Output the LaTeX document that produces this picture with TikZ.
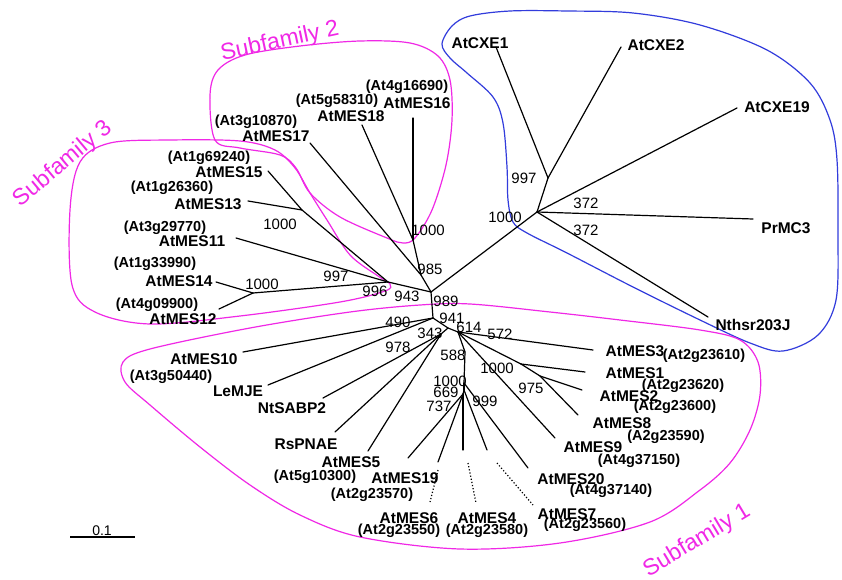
\documentclass[tikz,border=0pt]{standalone}
\usepackage{fontspec}
\setmainfont{Liberation Sans}
\definecolor{sfmag}{RGB}{240,40,230}
\definecolor{cxeblue}{RGB}{50,60,220}
\tikzset{
  br/.style={line width=1.2pt, black, line cap=round},
  brdot/.style={line width=1.2pt, black, dotted},
  tiplab/.style={font=\bfseries\fontsize{15.5}{16}\selectfont, inner sep=0pt},
  gid/.style={font=\bfseries\fontsize{14.5}{15}\selectfont, inner sep=0pt},
  bs/.style={font=\fontsize{15}{16}\selectfont, inner sep=0pt},
  subf/.style={font=\fontsize{23}{24}\selectfont, text=sfmag, inner sep=0pt},
  outl/.style={draw=sfmag, line width=1.2pt},
  outb/.style={draw=cxeblue, line width=1.2pt}
}
\begin{document}
\begin{tikzpicture}[x=1pt,y=-1pt]
\useasboundingbox[fill=white] (0,0) rectangle (842,580);

% ---------- outlines ----------
\draw[outb] plot[smooth cycle, tension=0.55] coordinates {
 (442,44) (452,26) (470,16) (510,11) (567,11) (633,13) (700,25) (767,50) (810,83)
 (830,120) (837,160) (838,233) (836,300) (818,335) (783,351) (750,343) (700,320)
 (633,287) (567,253) (527,233) (513,222) (508,200) (507,167) (503,123) (493,97)
 (467,73) (450,58)};
\draw[outl] plot[smooth cycle, tension=0.55] coordinates {
 (210,95) (218,70) (245,55) (300,46) (360,41) (410,43) (438,56) (450,80) (452,120)
 (446,165) (432,210) (415,238) (403,243) (387,238) (340,217) (310,193) (296,168)
 (280,155) (240,148) (215,140)};
\draw[outl] plot[smooth cycle, tension=0.55] coordinates {
 (110,143) (170,140) (240,141) (275,150) (295,168) (310,193) (327,220) (350,255)
 (378,276) (390,284) (385,291) (340,302) (240,316) (150,324) (95,312) (72,285)
 (70,210) (80,162)};
\draw[outl] plot[smooth cycle, tension=0.55] coordinates {
 (150,349) (250,328) (350,312) (420,305) (470,304) (550,312) (620,320) (700,330)
 (740,340) (758,362) (760,395) (750,430) (730,463) (700,490) (650,522) (560,543)
 (460,549) (360,537) (300,515) (250,485) (200,447) (150,405) (125,382) (123,362)};

\node[subf, rotate=12] (sf2) at (280,42) {Subfamily 2};
\node[subf, rotate=40] (sf3) at (63,164) {Subfamily 3};
\node[subf, rotate=31] (sf1) at (697,541) {Subfamily 1};

% ---------- tree nodes ----------
\coordinate (A) at (413,240);
\coordinate (B) at (421,275);
\coordinate (C) at (431,292);
\coordinate (D) at (388,282);
\coordinate (F) at (302,210);
\coordinate (G) at (253,293);
\coordinate (X) at (537,212);
\coordinate (Y) at (548,178);
\coordinate (H) at (433,318);
\coordinate (I) at (448,328);
\coordinate (J) at (441,334);
\coordinate (P) at (458,332);
\coordinate (R) at (521,364);
\coordinate (S) at (540,376);
\coordinate (L) at (465,352);
\coordinate (U) at (464,383);
\coordinate (V) at (464,390);
\coordinate (W) at (463,394);

% tips
\coordinate (t16) at (413,118);
\coordinate (t18) at (362,125);
\coordinate (t17) at (310,143);
\coordinate (t15) at (268,171);
\coordinate (t13) at (248,201);
\coordinate (t11) at (236,238);
\coordinate (t14) at (216,282);
\coordinate (t12) at (219,309);
\coordinate (tc1) at (496,47);
\coordinate (tc2) at (621,47);
\coordinate (tc19) at (737,108);
\coordinate (tpr) at (753,219);
\coordinate (tnt) at (708,317);
\coordinate (t10) at (243,352);
\coordinate (tle) at (268,385);
\coordinate (tnts) at (323,398);
\coordinate (trs) at (335,432);
\coordinate (t5) at (368,451);
\coordinate (t3) at (593,350);
\coordinate (t1) at (585,372);
\coordinate (t2) at (582,390);
\coordinate (t8) at (578,415);
\coordinate (t9) at (555,438);
\coordinate (t20) at (528,468);
\coordinate (t7s) at (487,450);
\coordinate (t6s) at (438,462);
\coordinate (t19) at (408,458);
\coordinate (t4s) at (463,450);
\coordinate (d6a) at (438,470);
\coordinate (d6b) at (430,502);
\coordinate (d4a) at (468,463);
\coordinate (d4b) at (476,503);
\coordinate (d7a) at (497,463);
\coordinate (d7b) at (533,505);

% ---------- branches ----------
\draw[br] (t16) -- (A);
\draw[br] (t18) -- (A);
\draw[br] (A) -- (B);
\draw[br] (t17) -- (B);
\draw[br] (B) -- (C);
\draw[br] (t15) -- (F);
\draw[br] (t13) -- (F);
\draw[br] (F) -- (D);
\draw[br] (t11) -- (D);
\draw[br] (t14) -- (G);
\draw[br] (t12) -- (G);
\draw[br] (G) -- (D);
\draw[br] (D) -- (C);
\draw[br] (C) -- (X);
\draw[br] (X) -- (Y);
\draw[br] (Y) -- (tc1);
\draw[br] (Y) -- (tc2);
\draw[br] (X) -- (tc19);
\draw[br] (X) -- (tpr);
\draw[br] (X) -- (tnt);
\draw[br] (C) -- (H);
\draw[br] (H) -- (t10);
\draw[br] (H) -- (tle);
\draw[br] (H) -- (I);
\draw[br] (I) -- (J);
\draw[br] (J) -- (tnts);
\draw[br] (J) -- (trs);
\draw[br] (J) -- (t5);
\draw[br] (I) -- (P);
\draw[br] (P) -- (t3);
\draw[br] (P) -- (R);
\draw[br] (R) -- (t1);
\draw[br] (R) -- (S);
\draw[br] (S) -- (t2);
\draw[br] (S) -- (t8);
\draw[br] (P) -- (t9);
\draw[br] (P) -- (L);
\draw[br] (L) -- (U);
\draw[br] (U) -- (t20);
\draw[br] (U) -- (V);
\draw[br] (V) -- (t7s);
\draw[br] (V) -- (W);
\draw[br] (W) -- (t6s);
\draw[br] (W) -- (t19);
\draw[br] (W) -- (t4s);
\draw[brdot] (d6a) -- (d6b);
\draw[brdot] (d4a) -- (d4b);
\draw[brdot] (d7a) -- (d7b);

% ---------- tip labels ----------
\node[gid] (g16) at (407,87) {(At4g16690)};
\node[tiplab] (n16) at (417,103) {AtMES16};
\node[gid] (g18) at (337,101) {(At5g58310)};
\node[tiplab] (n18) at (351,116) {AtMES18};
\node[gid] (g17) at (256,122) {(At3g10870)};
\node[tiplab] (n17) at (276,136) {AtMES17};

\node[gid] (g15) at (209,158) {(At1g69240)};
\node[tiplab] (n15) at (229,172) {AtMES15};
\node[gid] (g13) at (172,188) {(At1g26360)};
\node[tiplab] (n13) at (208,204) {AtMES13};
\node[gid] (g11) at (165,228) {(At3g29770)};
\node[tiplab] (n11) at (192,241) {AtMES11};
\node[gid] (g14) at (155,264) {(At1g33990)};
\node[tiplab] (n14) at (179,281) {AtMES14};
\node[gid] (g12) at (157,305) {(At4g09900)};
\node[tiplab] (n12) at (183,319) {AtMES12};

\node[tiplab] (nc1) at (480,43) {AtCXE1};
\node[tiplab] (nc2) at (656,45) {AtCXE2};
\node[tiplab] (nc19) at (777,107) {AtCXE19};
\node[tiplab] (npr) at (786,228) {PrMC3};
\node[tiplab] (nnt) at (753,325) {Nthsr203J};

\node[tiplab] (n10) at (204,359) {AtMES10};
\node[gid] (g10) at (171,377) {(At3g50440)};
\node[tiplab] (nle) at (238,391) {LeMJE};
\node[tiplab] (nnts) at (292,408) {NtSABP2};
\node[tiplab] (nrs) at (306,444) {RsPNAE};
\node[tiplab] (n5) at (351,462) {AtMES5};
\node[gid] (g5) at (315,477) {(At5g10300)};
\node[tiplab] (n19) at (405,478) {AtMES19};
\node[gid] (g19) at (372,495) {(At2g23570)};
\node[tiplab] (n6) at (409,518) {AtMES6};
\node[gid] (g6) at (399,531) {(At2g23550)};
\node[tiplab] (n4) at (487,518) {AtMES4};
\node[gid] (g4) at (487,531) {(At2g23580)};
\node[tiplab] (n7) at (567,514) {AtMES7};
\node[gid] (g7) at (585,525) {(At2g23560)};
\node[tiplab] (n20) at (571,479) {AtMES20};
\node[gid] (g20) at (611,491) {(At4g37140)};
\node[tiplab] (n9) at (593,447) {AtMES9};
\node[gid] (g9) at (639,461) {(At4g37150)};
\node[tiplab] (n8) at (622,423) {AtMES8};
\node[gid] (g8) at (666,437) {(A2g23590)};
\node[tiplab] (n2) at (629,396) {AtMES2};
\node[gid] (g2) at (675,407) {(At2g23600)};
\node[tiplab] (n1) at (635,373) {AtMES1};
\node[gid] (g1) at (683,386) {(At2g23620)};
\node[tiplab] (n3) at (635,351) {AtMES3};
\node[gid] (g3) at (704,356) {(At2g23610)};

% ---------- bootstrap values ----------
\node[bs] (b1) at (428,230) {1000};
\node[bs] (b2) at (430,269) {985};
\node[bs] (b3) at (280,224) {1000};
\node[bs] (b4) at (336,276) {997};
\node[bs] (b5) at (262,284) {1000};
\node[bs] (b6) at (375,291) {996};
\node[bs] (b7) at (407,296) {943};
\node[bs] (b8) at (446,301) {989};
\node[bs] (b9) at (524,178) {997};
\node[bs] (b10) at (505,217) {1000};
\node[bs] (b11) at (586,203) {372};
\node[bs] (b12) at (586,230) {372};
\node[bs] (b13) at (398,322) {490};
\node[bs] (b14) at (452,318) {941};
\node[bs] (b15) at (469,327) {614};
\node[bs] (b16) at (500,334) {572};
\node[bs] (b17) at (430,333) {343};
\node[bs] (b18) at (398,347) {978};
\node[bs] (b19) at (453,355) {588};
\node[bs] (b20) at (497,368) {1000};
\node[bs] (b21) at (531,388) {975};
\node[bs] (b22) at (450,381) {1000};
\node[bs] (b23) at (446,392) {669};
\node[bs] (b24) at (439,406) {737};
\node[bs] (b25) at (485,401) {999};

% ---------- scale bar ----------
\coordinate (s1) at (70,537);
\coordinate (s2) at (135,537);
\draw[line width=1.2pt] (s1) -- (s2);
\node[font=\fontsize{14}{15}\selectfont, inner sep=0pt] (sc) at (102,531) {0.1};
\end{tikzpicture}
\end{document}
